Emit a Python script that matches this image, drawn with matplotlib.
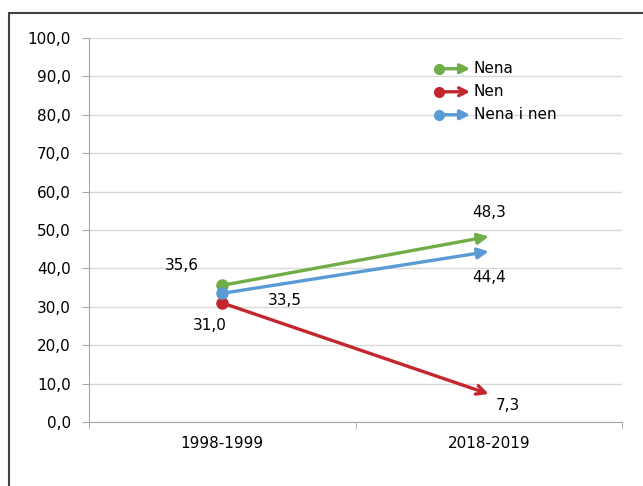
import matplotlib.pyplot as plt
from matplotlib.patches import Rectangle

# Data
categories = ["1998-1999", "2018-2019"]
series_names = ["Nena", "Nen", "Nena i nen"]
start_values = [35.6, 31.0, 33.5]
end_values = [48.3, 7.3, 44.4]
colors = ["#70AD47", "#C4262E", "#5B9BD5"]
arrow_styles = ["-|>", "->", "-|>"]

yticks = [0, 10, 20, 30, 40, 50, 60, 70, 80, 90, 100]

# label offsets (points) for start / end values
start_offsets = [(-29, 14), (-9, -16), (45, -5)]
end_offsets = [(0, 17), (14, -8), (0, -19)]


def fmt(v):
    return f"{v:.1f}".replace(".", ",")


fig = plt.figure(figsize=(6.43, 4.86), dpi=100)
ax = fig.add_axes([89 / 643, 1 - 422 / 486, (622 - 89) / 643, (422 - 38) / 486])

# outer frame (right/bottom edges cut off as in the reference)
fig.patches.append(
    Rectangle((9 / 643, -0.1), 1.2, 1 - 13 / 486 + 0.1, transform=fig.transFigure,
              fill=False, edgecolor="#404040", linewidth=1.5)
)

ax.set_xlim(-0.5, 1.5)
ax.set_ylim(0, 100)
ax.set_yticks(yticks)
ax.set_yticklabels([fmt(v) for v in yticks], fontsize=11)
ax.set_xticks([0, 1])
ax.set_xticklabels(categories, fontsize=11)
ax.set_xticks([-0.5, 0.5, 1.5], minor=True)
ax.tick_params(axis="x", which="major", length=0, pad=10)
ax.tick_params(axis="x", which="minor", length=5, color="#a6a6a6")
ax.tick_params(axis="y", length=5, color="#a6a6a6", pad=8)
ax.yaxis.grid(True, color="#d9d9d9", linewidth=1)
ax.set_axisbelow(True)
for side in ["top", "right"]:
    ax.spines[side].set_visible(False)
for side in ["left", "bottom"]:
    ax.spines[side].set_color("#a6a6a6")

for i in range(len(series_names)):
    ax.annotate("", xy=(1, end_values[i]), xytext=(0, start_values[i]),
                arrowprops=dict(arrowstyle=arrow_styles[i], color=colors[i], lw=2.4,
                                mutation_scale=16, shrinkA=0, shrinkB=0))
    ax.plot(0, start_values[i], "o", color=colors[i], markersize=8, zorder=5)
    ax.annotate(fmt(start_values[i]), (0, start_values[i]), xytext=start_offsets[i],
                textcoords="offset points", ha="center", va="center", fontsize=11)
    ax.annotate(fmt(end_values[i]), (1, end_values[i]), xytext=end_offsets[i],
                textcoords="offset points", ha="center", va="center", fontsize=11)

# legend drawn by hand
for i in range(len(series_names)):
    y = 0.92 - i * 0.06
    ax.annotate("", xy=(0.715, y), xytext=(0.657, y), xycoords="axes fraction",
                arrowprops=dict(arrowstyle=arrow_styles[i], color=colors[i], lw=2.4,
                                mutation_scale=14, shrinkA=0, shrinkB=0))
    ax.plot(0.657, y, "o", color=colors[i], markersize=7, transform=ax.transAxes,
            clip_on=False, zorder=5)
    ax.text(0.722, y, series_names[i], transform=ax.transAxes, va="center", fontsize=11)

fig.savefig("out.png", dpi=100)
